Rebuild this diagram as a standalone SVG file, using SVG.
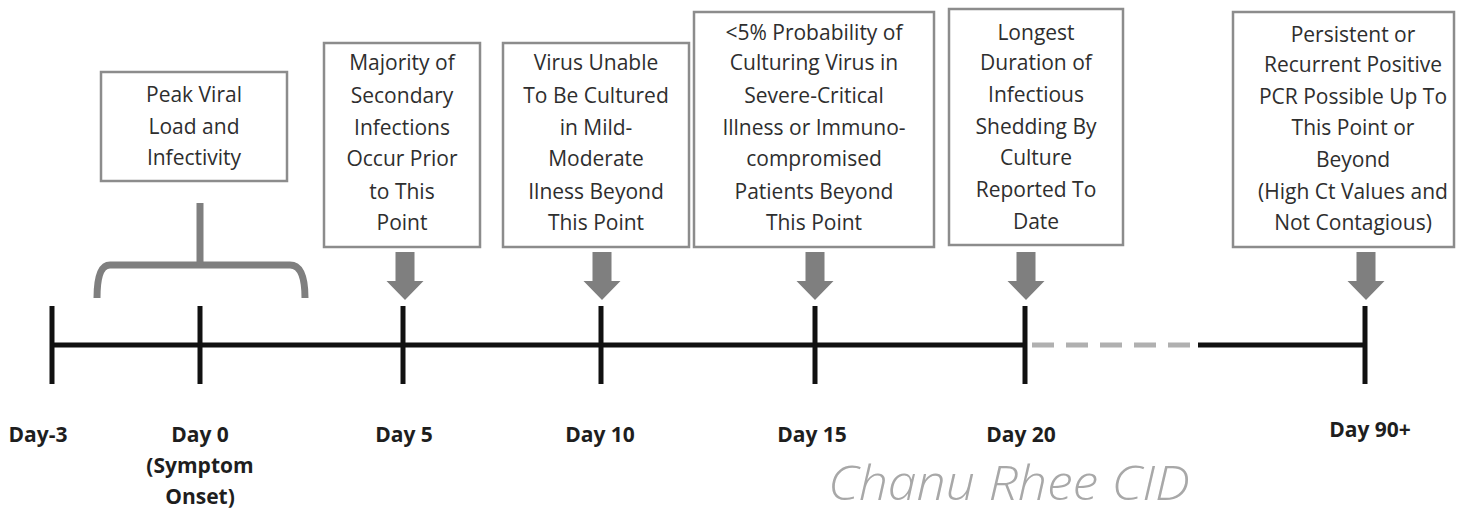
<svg xmlns="http://www.w3.org/2000/svg" width="1457" height="513" viewBox="0 0 1457 513">
<style>
.box{fill:#fff;stroke:#8c8c8c;stroke-width:2.5}
.bt{font-family:"Open Sans","Liberation Sans",sans-serif;font-size:21px;fill:#2e2e2e;text-anchor:middle}
.day{font-family:"Open Sans","Liberation Sans",sans-serif;font-size:21px;font-weight:bold;fill:#1e1e1e;text-anchor:middle}
.tick{stroke:#111;stroke-width:5;fill:none}
.ga{fill:#7f7f7f}
</style>
<defs>
<path id="arr" d="M-9.5,0 H9.5 V29 H18.5 L0,48 L-18.5,29 H-9.5 Z"/>
</defs>
<rect width="1457" height="513" fill="#fff"/>

<g id="connectors">
<path d="M97,298 Q97,265 110,265 H290 Q305,265 305,298" fill="none" stroke="#7f7f7f" stroke-width="7"/>
<path d="M200,203 V265" fill="none" stroke="#7f7f7f" stroke-width="7"/>
<line x1="52" y1="345" x2="1025" y2="345" class="tick"/>
<line x1="1032" y1="345" x2="1190" y2="345" stroke="#b0b0b0" stroke-width="5" stroke-dasharray="22,12"/>
<line x1="1198" y1="345" x2="1365" y2="345" class="tick"/>
<line x1="52" y1="306" x2="52" y2="384" class="tick"/>
<line x1="200" y1="306" x2="200" y2="384" class="tick"/>
<line x1="403" y1="306" x2="403" y2="384" class="tick"/>
<line x1="601" y1="306" x2="601" y2="384" class="tick"/>
<line x1="815" y1="306" x2="815" y2="384" class="tick"/>
<line x1="1025" y1="306" x2="1025" y2="384" class="tick"/>
<line x1="1365" y1="306" x2="1365" y2="384" class="tick"/>
<use href="#arr" x="405" y="252" class="ga"/>
<use href="#arr" x="602" y="252" class="ga"/>
<use href="#arr" x="815" y="252" class="ga"/>
<use href="#arr" x="1026" y="252" class="ga"/>
<use href="#arr" x="1366" y="252" class="ga"/>
</g>

<g id="peak">
<rect class="box" x="101" y="72" width="186" height="109"/>
<text class="bt" x="194" y="102">Peak Viral</text>
<text class="bt" x="194" y="134">Load and</text>
<text class="bt" x="194" y="165">Infectivity</text>
</g>

<g id="majority">
<rect class="box" x="324" y="43" width="156" height="204"/>
<text class="bt" x="402" y="70">Majority of</text>
<text class="bt" x="402" y="103">Secondary</text>
<text class="bt" x="402" y="135">Infections</text>
<text class="bt" x="402" y="166">Occur Prior</text>
<text class="bt" x="402" y="199">to This</text>
<text class="bt" x="402" y="230">Point</text>
</g>

<g id="unable">
<rect class="box" x="503" y="43" width="186" height="204"/>
<text class="bt" x="596" y="70">Virus Unable</text>
<text class="bt" x="596" y="103">To Be Cultured</text>
<text class="bt" x="596" y="135">in Mild-</text>
<text class="bt" x="596" y="166">Moderate</text>
<text class="bt" x="596" y="199">Ilness Beyond</text>
<text class="bt" x="596" y="230">This Point</text>
</g>

<g id="probability">
<rect class="box" x="694" y="12" width="240" height="235"/>
<text class="bt" x="814" y="40">&lt;5% Probability of</text>
<text class="bt" x="814" y="70">Culturing Virus in</text>
<text class="bt" x="814" y="103">Severe-Critical</text>
<text class="bt" x="814" y="135">Illness or Immuno-</text>
<text class="bt" x="814" y="166">compromised</text>
<text class="bt" x="814" y="199">Patients Beyond</text>
<text class="bt" x="814" y="230">This Point</text>
</g>

<g id="longest">
<rect class="box" x="949" y="9" width="174" height="236"/>
<text class="bt" x="1036" y="40">Longest</text>
<text class="bt" x="1036" y="70">Duration of</text>
<text class="bt" x="1036" y="102">Infectious</text>
<text class="bt" x="1036" y="134">Shedding By</text>
<text class="bt" x="1036" y="165">Culture</text>
<text class="bt" x="1036" y="197">Reported To</text>
<text class="bt" x="1036" y="229">Date</text>
</g>

<g id="persistent">
<rect class="box" x="1233" y="12" width="221" height="235"/>
<text class="bt" x="1353" y="42">Persistent or</text>
<text class="bt" x="1353" y="72">Recurrent Positive</text>
<text class="bt" x="1353" y="104">PCR Possible Up To</text>
<text class="bt" x="1353" y="135">This Point or</text>
<text class="bt" x="1353" y="167">Beyond</text>
<text class="bt" x="1353" y="199">(High Ct Values and</text>
<text class="bt" x="1353" y="230">Not Contagious)</text>
</g>

<g id="labels">
<text class="day" x="38" y="442">Day-3</text>
<text class="day" x="200" y="442">Day 0</text>
<text class="day" x="200" y="473">(Symptom</text>
<text class="day" x="200" y="504">Onset)</text>
<text class="day" x="404" y="442">Day 5</text>
<text class="day" x="600" y="442">Day 10</text>
<text class="day" x="812" y="442">Day 15</text>
<text class="day" x="1021" y="442">Day 20</text>
<text class="day" x="1370" y="437">Day 90+</text>
</g>

<g id="watermark">
<text x="828" y="500" font-family="Open Sans,Liberation Sans,sans-serif" font-size="48" font-style="italic" font-weight="300" fill="#a8a8a8" textLength="362" lengthAdjust="spacingAndGlyphs">Chanu Rhee CID</text>
</g>
</svg>
